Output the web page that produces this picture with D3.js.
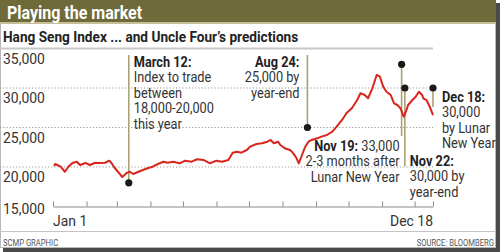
<!DOCTYPE html>
<html lang="en">
<head>
  <meta charset="UTF-8" />
  <title>Playing the market</title>
  <script src="https://d3js.org/d3.v7.min.js"></script>
  <style>
    body {
      margin: 0;
      background: #fff;
    }

    svg text {
      font-family: Roboto, "DejaVu Sans", sans-serif;
    }

    .axis-label {
      font-size: 15px;
      fill: #333;
    }

    .note {
      font-size: 14.5px;
      fill: #333;
    }

    .note .hd {
      font-weight: bold;
      fill: #222;
    }
  </style>
</head>
<body>
  <div id="chart"></div>
  <script>
    // Hang Seng Index closes (2007)
    const dates = [
      "01-02", "01-03", "01-08", "01-12", "01-15", "01-19", "01-23", "01-26", "01-31",
      "02-04", "02-09", "02-13", "02-18", "02-22", "02-24", "02-27",
      "03-02", "03-04", "03-06", "03-10", "03-13", "03-16", "03-21", "03-25", "03-30",
      "04-03", "04-08", "04-13", "04-17", "04-22", "04-28",
      "05-03", "05-09", "05-14", "05-20", "05-26",
      "06-01", "06-06", "06-12", "06-16", "06-20", "06-24", "06-29",
      "07-02", "07-08", "07-13", "07-18", "07-21", "07-24", "07-28", "07-30",
      "08-03", "08-08", "08-11", "08-14", "08-16", "08-19", "08-22", "08-25", "08-28",
      "09-02", "09-06", "09-11", "09-16", "09-20", "09-25", "09-29",
      "10-04", "10-09", "10-12", "10-16", "10-19", "10-23", "10-26", "10-27", "10-30",
      "11-02", "11-05", "11-09", "11-12", "11-15", "11-18", "11-21", "11-23", "11-25", "11-29",
      "12-02", "12-05", "12-08", "12-09", "12-12", "12-15", "12-18"
    ];
    const hsi = [
      20130, 20380, 20040, 19400, 20000, 20510, 20670, 20250, 20510,
      20250, 20540, 20510, 20540, 20800, 20510, 19870,
      19400, 19080, 18730, 19240, 19400, 19110, 19400, 19620, 19870,
      20040, 20380, 20670, 20540, 20670, 20470,
      20800, 20670, 20980, 20890, 20470,
      20800, 20670, 20890, 21810, 21940, 21810, 22150,
      22570, 22910, 23000, 23200, 23420, 23000, 23200, 22790,
      22370, 22150, 21730, 21100, 20470, 21520, 22570, 23200, 23420,
      23630, 23840, 24050, 24470, 25100, 25950, 26800,
      27430, 28480, 29330, 29110, 28700, 29960, 31230, 31650, 31430,
      30170, 29530, 29110, 28060, 27850, 27430, 26370, 27000, 27850, 28480,
      28900, 29530, 29110, 28700, 28480, 27630, 26580
    ];

    // Uncle Four's predictions
    const predDates = ["03-12", "08-24", "11-19", "11-22", "12-18"];
    const predValues = [18000, 25000, 33000, 30000, 30000];
    const predHeads = ["March 12:", "Aug 24:", "Nov 19:", "Nov 22:", "Dec 18:"];
    const predInline = ["", "", " 33,000", "", ""];
    const predLines = [
      ["Index to trade", "between", "18,000-20,000", "this year"],
      ["25,000 by", "year-end"],
      ["2-3 months after", "Lunar New Year"],
      ["30,000 by", "year-end"],
      ["30,000", "by Lunar", "New Year"]
    ];

    const yTicks = [15000, 20000, 25000, 30000, 35000];
    const xTickLabels = ["Jan 1", "Dec 18"];

    const W = 500, H = 252;
    const parse = s => d3.timeParse("%Y-%m-%d")("2007-" + s);
    const series = dates.map((d, i) => ({ date: parse(d), value: hsi[i] }));
    const preds = predDates.map((d, i) => ({
      date: parse(d), value: predValues[i], head: predHeads[i],
      inline: predInline[i], lines: predLines[i]
    }));

    const x = d3.scaleTime()
      .domain([parse("01-01"), parse("12-18")])
      .range([53, 433]);
    const y = d3.scaleLinear()
      .domain([15000, 35000])
      .range([206.5, 48.5]);

    const svg = d3.select("#chart").append("svg")
      .attr("width", W)
      .attr("height", H);

    // the paper's type is condensed; squeeze each text horizontally
    function label(parent, tx, ty, sx) {
      return parent.append("g")
        .attr("transform", `translate(${tx},${ty}) scale(${sx},1)`)
        .append("text");
    }

    // frame + shadow
    svg.append("rect").attr("x", 3).attr("y", 3).attr("width", W - 3).attr("height", H - 3)
      .attr("fill", "#4a4a4a");
    svg.append("rect").attr("x", 0.5).attr("y", 0.5).attr("width", W - 5).attr("height", H - 5)
      .attr("fill", "#fff").attr("stroke", "#b8b8b8");

    // title bar
    svg.append("rect").attr("x", 0).attr("y", 0).attr("width", W - 4).attr("height", 22)
      .attr("fill", "#6f6a39");
    svg.append("line").attr("x1", 0).attr("x2", W - 4).attr("y1", 23).attr("y2", 23)
      .attr("stroke", "#c6c09a").attr("stroke-width", 2);
    label(svg, 7, 18.5, 0.89)
      .attr("fill", "#fff").attr("font-size", "18px").attr("font-weight", "bold")
      .text("Playing the market");
    label(svg, 3, 41.5, 0.88)
      .attr("fill", "#222").attr("font-size", "15.5px").attr("font-weight", "bold")
      .text("Hang Seng Index ... and Uncle Four\u2019s predictions");

    // top rule at 35,000 and dotted gridlines
    svg.append("line").attr("x1", 0).attr("x2", x(parse("12-18")))
      .attr("y1", y(35000)).attr("y2", y(35000))
      .attr("stroke", "#c8c8c8").attr("stroke-width", 2);
    svg.selectAll(".grid")
      .data([20000, 25000, 30000])
      .enter().append("line")
      .attr("class", "grid")
      .attr("x1", 0).attr("x2", x(parse("12-18")))
      .attr("y1", d => y(d)).attr("y2", d => y(d))
      .attr("stroke", "#9a9a9a").attr("stroke-dasharray", "1.2,2");

    yTicks.forEach(v => {
      label(svg, 3, v === 15000 ? y(v) + 7 : y(v) + 15, 0.93)
        .attr("class", "axis-label")
        .text(d3.format(",")(v));
    });

    // x axis with upward ticks
    const tickDates = d3.timeMonth.range(parse("01-01"), parse("12-18")).concat([parse("12-18")]);
    svg.append("g")
      .attr("transform", `translate(0,${y(15000)})`)
      .call(d3.axisBottom(x).tickValues(tickDates).tickSize(-5).tickSizeOuter(0).tickFormat(""))
      .call(g => g.selectAll("path,line").attr("stroke", "#8a8a8a"));

    label(svg, x(parse("01-01")), 226, 0.93).attr("class", "axis-label")
      .text(xTickLabels[0]);
    label(svg, x(parse("12-18")), 226, 0.93).attr("class", "axis-label")
      .attr("text-anchor", "end")
      .text(xTickLabels[1]);

    // connectors (drawn under the line)
    const connEnd = [55, 55, 136, 166, 107];
    svg.selectAll(".conn")
      .data(preds)
      .enter().append("line")
      .attr("class", "conn")
      .attr("x1", d => x(d.date)).attr("x2", d => x(d.date))
      .attr("y1", d => y(d.value)).attr("y2", (d, i) => connEnd[i])
      .attr("stroke", "#aaa174").attr("stroke-width", 1.6);

    // index line
    const line = d3.line()
      .x(d => x(d.date))
      .y(d => y(d.value));
    svg.append("path")
      .datum(series)
      .attr("d", line)
      .attr("fill", "none")
      .attr("stroke", "#d8261f")
      .attr("stroke-width", 2)
      .attr("stroke-linejoin", "round");

    svg.selectAll(".dot")
      .data(preds)
      .enter().append("circle")
      .attr("cx", d => x(d.date)).attr("cy", d => y(d.value))
      .attr("r", 3.6).attr("fill", "#1a1a1a");

    // annotation text: [dx from connector, first baseline, anchor]
    const noteLayout = [
      [5, 67, "start"],
      [-8, 67, "end"],
      [-2, 151, "end"],
      [5, 166, "start"],
      [9, 102, "start"]
    ];
    const lh = 15.4;
    preds.forEach((p, i) => {
      const [dx, by, anchor] = noteLayout[i];
      const t = label(svg, x(p.date) + dx, by, 0.88)
        .attr("class", "note")
        .attr("text-anchor", anchor);
      const first = t.append("tspan").attr("x", 0).attr("y", 0);
      first.append("tspan").attr("class", "hd").text(p.head);
      if (p.inline) first.append("tspan").text(p.inline);
      p.lines.forEach((s, j) => {
        t.append("tspan").attr("x", 0).attr("y", lh * (j + 1)).text(s);
      });
    });

    // footer
    svg.append("line").attr("x1", 0).attr("x2", W - 4).attr("y1", 231.5).attr("y2", 231.5)
      .attr("stroke", "#c4c4c4");
    label(svg, 3, 246, 0.9)
      .attr("font-size", "8.5px").attr("fill", "#555")
      .text("SCMP GRAPHIC");
    label(svg, W - 6, 246, 0.9).attr("text-anchor", "end")
      .attr("font-size", "8.5px").attr("fill", "#555")
      .text("SOURCE: BLOOMBERG");
  </script>
</body>
</html>
